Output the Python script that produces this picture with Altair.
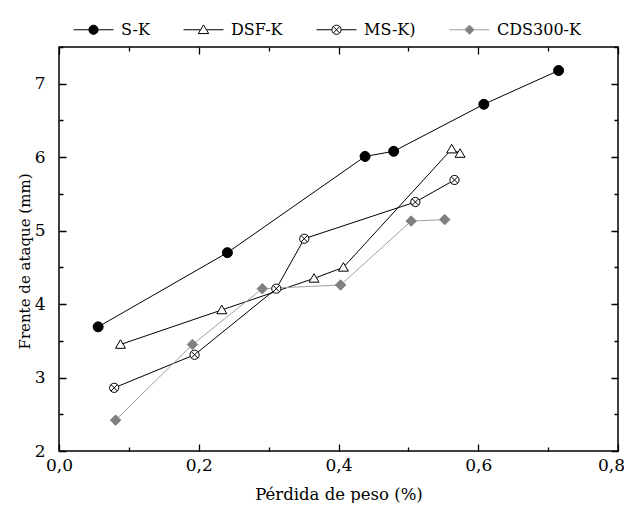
import altair as alt
import pandas as pd

series = ["S-K", "DSF-K", "MS-K)", "CDS300-K"]

sk_x = [0.056, 0.241, 0.438, 0.479, 0.608, 0.715]
sk_y = [3.69, 4.70, 6.01, 6.08, 6.72, 7.18]
dsf_x = [0.088, 0.233, 0.365, 0.407, 0.562, 0.574]
dsf_y = [3.45, 3.92, 4.35, 4.50, 6.11, 6.05]
ms_x = [0.079, 0.194, 0.311, 0.351, 0.510, 0.566]
ms_y = [2.86, 3.31, 4.21, 4.89, 5.39, 5.69]
cds_x = [0.081, 0.191, 0.291, 0.403, 0.504, 0.552]
cds_y = [2.42, 3.45, 4.21, 4.26, 5.13, 5.15]

x_ticks = [0.0, 0.1, 0.2, 0.3, 0.4, 0.5, 0.6, 0.7, 0.8]
y_ticks = [2.0, 2.5, 3.0, 3.5, 4.0, 4.5, 5.0, 5.5, 6.0, 6.5, 7.0, 7.5]

xs = {"S-K": sk_x, "DSF-K": dsf_x, "MS-K)": ms_x, "CDS300-K": cds_x}
ys = {"S-K": sk_y, "DSF-K": dsf_y, "MS-K)": ms_y, "CDS300-K": cds_y}
rows = []
for s in series:
    for a, b in zip(xs[s], ys[s]):
        rows.append({"series": s, "x": a, "y": b})
df = pd.DataFrame(rows)

FONT = "DejaVu Serif"
W, H = 559, 404

CIRCLE = "M1,0A1,1,0,1,1,-1,0A1,1,0,1,1,1,0Z"
TRI = "M0,-1L1.05,0.8L-1.05,0.8Z"
CX = CIRCLE + "M-0.7,-0.7L0.7,0.7M-0.7,0.7L0.7,-0.7"
DIAM = "M0,-1L1,0L0,1L-1,0Z"

line_col = {"S-K": "black", "DSF-K": "black", "MS-K)": "black", "CDS300-K": "#a0a0a0"}
pt_shape = {"S-K": CIRCLE, "DSF-K": TRI, "MS-K)": CX, "CDS300-K": DIAM}
pt_fill = {"S-K": "black", "DSF-K": "white", "MS-K)": "white", "CDS300-K": "#808080"}
pt_stroke = {"S-K": "black", "DSF-K": "black", "MS-K)": "black", "CDS300-K": "#808080"}
pt_size = {"S-K": 100, "DSF-K": 90, "MS-K)": 85, "CDS300-K": 110}

r = 0.23
leg_paths = [
    f"M-1,0L-{r},0M{r},0L1,0M{r},0A{r},{r},0,1,1,-{r},0A{r},{r},0,1,1,{r},0Z",
    "M-1,0L-0.15,0M0.15,0L1,0M0,-0.24L0.26,0.19L-0.26,0.19Z",
    f"M-1,0L-{r},0M{r},0L1,0M{r},0A{r},{r},0,1,1,-{r},0A{r},{r},0,1,1,{r},0Z"
    "M-0.16,-0.16L0.16,0.16M-0.16,0.16L0.16,-0.16",
    "M-1,0L-0.24,0M0.24,0L1,0M0,-0.24L0.24,0L0,0.24L-0.24,0Z",
]
leg_fill = ["black", "white", "white", "#808080"]
leg_stroke = ["black", "black", "black", "#a0a0a0"]

xscale = alt.Scale(domain=[0, 0.8], nice=False, zero=False)
yscale = alt.Scale(domain=[2, 7.5], nice=False, zero=False)

X_MINOR = "round(datum.value * 10) % 2 == 1"
Y_MINOR = "round(datum.value * 2) % 2 == 1"

# inward tick marks drawn as dashed grid lines: a short dash at each end of every grid line
x_axis = alt.Axis(
    orient="bottom", values=x_ticks, ticks=False, domain=False, zindex=1,
    grid=True, gridColor="black", gridOpacity=1, gridWidth=1.3,
    gridDash={"condition": {"test": X_MINOR, "value": [4, H - 8]}, "value": [7, H - 14]},
    labelExpr=f"{X_MINOR} ? '' : replace(format(datum.value, '.1f'), '.', ',')",
    labelFlush=False, labelPadding=6, labelFont=FONT, labelFontSize=17, labelColor="black",
    labelOffset={"condition": {"test": "datum.value > 0.75", "value": -7}, "value": 0},
    title="Pérdida de peso (%)", titleFont=FONT, titleFontSize=16.5, titleFontWeight="normal",
    titleColor="black", titleX=W / 2, titleY=43, titleBaseline="middle",
)
y_axis = alt.Axis(
    orient="left", values=y_ticks, ticks=False, domain=False, zindex=1,
    grid=True, gridColor="black", gridOpacity=1, gridWidth=1.3,
    gridDash={"condition": {"test": Y_MINOR, "value": [4, W - 8]}, "value": [7, W - 14]},
    labelExpr=f"{Y_MINOR} ? '' : format(datum.value, 'd')",
    labelFlush=False, labelPadding=14, labelFont=FONT, labelFontSize=17, labelColor="black",
    title="Frente de ataque (mm)", titleFont=FONT, titleFontSize=15, titleFontWeight="normal",
    titleColor="black", titleX=-35, titleY=H / 2 + 12, titleBaseline="middle", titleAngle=-90,
)


def X(field):
    return alt.X(field, scale=xscale, axis=x_axis)


def Y(field):
    return alt.Y(field, scale=yscale, axis=y_axis)


layers = []
for s in series:
    base = alt.Chart(df).transform_filter(alt.datum.series == s)
    layers.append(base.mark_line(color=line_col[s], strokeWidth=1).encode(x=X("x:Q"), y=Y("y:Q")))
for s in series:
    base = alt.Chart(df).transform_filter(alt.datum.series == s)
    layers.append(
        base.mark_point(shape=pt_shape[s], size=pt_size[s], fill=pt_fill[s], stroke=pt_stroke[s],
                        filled=True, opacity=1, strokeWidth=1).encode(x=X("x:Q"), y=Y("y:Q"))
    )

leg = alt.Legend(title=None)
legend_layer = alt.Chart(df).transform_filter("false").mark_point(
    filled=True, opacity=1, strokeWidth=1
).encode(
    x=X("x:Q"), y=Y("y:Q"),
    shape=alt.Shape("series:N", scale=alt.Scale(domain=series, range=leg_paths), legend=leg),
    fill=alt.Fill("series:N", scale=alt.Scale(domain=series, range=leg_fill), legend=leg),
    stroke=alt.Stroke("series:N", scale=alt.Scale(domain=series, range=leg_stroke), legend=leg),
)
layers.append(legend_layer)

chart = alt.layer(*layers).properties(
    width=W, height=H,
    autosize=alt.AutoSizeParams(type="none"),
    padding={"left": 51, "top": 39, "right": 6, "bottom": 52},
    background="white",
).configure_view(
    stroke="black", strokeWidth=1.5
).configure_legend(
    orient="none", legendX=14, legendY=-38, direction="horizontal",
    labelFont=FONT, labelFontSize=16, labelColor="black", labelOffset=7,
    symbolSize=1600, symbolStrokeWidth=1, columnPadding=31, padding=0,
)

chart.save("out.html", embed_options={"renderer": "svg", "actions": False})
